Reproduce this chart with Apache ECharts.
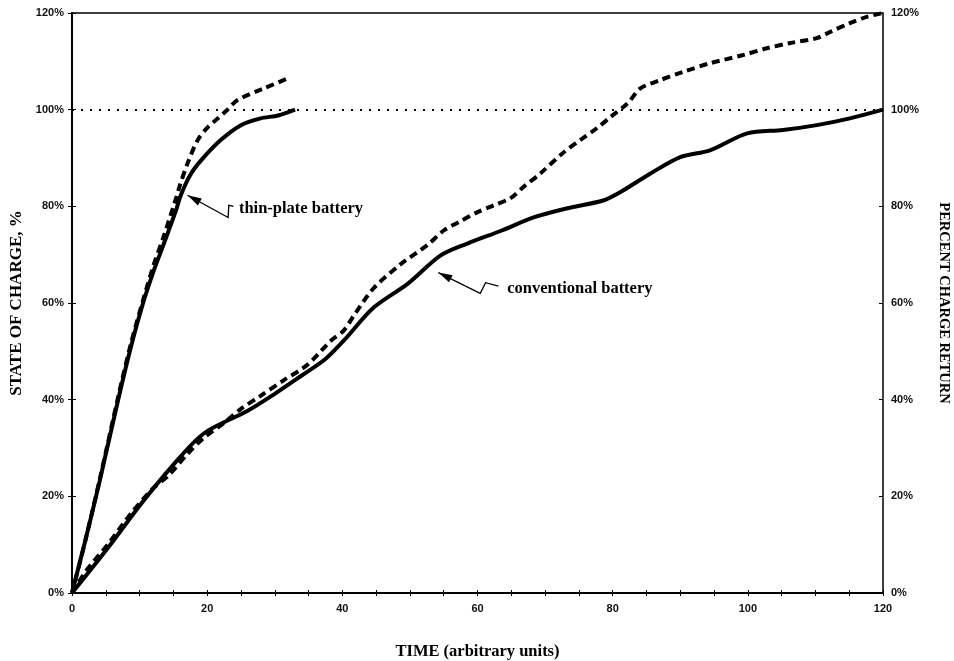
<!DOCTYPE html>
<html>
<head>
<meta charset="utf-8">
<title>State of charge</title>
<script src="https://cdn.jsdelivr.net/npm/echarts@6/dist/echarts.min.js"></script>
<style>
  html, body { margin: 0; padding: 0; background: #fff; }
  #chart { width: 954px; height: 661px; }
</style>
</head>
<body>
<div id="chart"></div>
<script>
// values (time in arbitrary units, charge in %)
var thinSolidT = [0, 2, 4.1, 6.9, 8.7, 10.5, 12.1, 13.6, 15.4, 16.1, 17.5, 19.1, 22, 25, 27.9, 30.5, 33];
var thinSolidV = [0, 11, 23.2, 40.4, 50.8, 59.9, 66.7, 72.3, 79.2, 82.3, 86.5, 89.5, 93.7, 96.8, 98.2, 98.8, 100];

var thinDashT = [0, 2, 4.1, 6.9, 8.7, 10.5, 12, 13.5, 15.2, 16, 17.1, 18.6, 20.1, 21.6, 23, 24.5, 28.4, 32];
var thinDashV = [0, 11, 23.5, 41, 51.5, 60.5, 67.5, 73.5, 80.8, 84.5, 88.9, 93.7, 96.4, 98.2, 100, 102, 104.4, 106.5];

var convSolidT = [0, 5.3, 10.2, 14.6, 19.5, 26, 30, 34, 37.5, 40.2, 44.6, 49.7, 54.5, 58.5, 63.6, 68.3, 73.3, 78.6, 81.1, 85.6, 90, 94.4, 99.9, 105.2, 110.2, 115.1, 120];
var convSolidV = [0, 9.3, 18.4, 25.9, 33, 37.7, 41.2, 45, 48.4, 52.2, 59, 64, 69.8, 72.3, 75, 77.7, 79.6, 81.2, 82.9, 86.8, 90.2, 91.6, 95.1, 95.8, 96.8, 98.2, 100];

var convDashT = [0, 2.1, 5.5, 8.7, 12.1, 14.2, 17.1, 19.5, 22.5, 25, 27.9, 31.3, 34.9, 38.3, 40.2, 41.7, 44.6, 48.6, 52.6, 55, 57.2, 60, 62.4, 64.9, 66.8, 69.3, 72.6, 75.2, 77.7, 79.7, 82.2, 84.1, 87, 90.4, 94.4, 99.3, 102.8, 106.3, 110.2, 112.2, 115.1, 117.6, 120];
var convDashV = [0, 4.6, 10.4, 16.4, 21.8, 24.2, 28.8, 32.1, 35.2, 38.1, 40.8, 44, 47.3, 52.2, 54.3, 57.4, 63, 68, 72, 75, 76.7, 78.8, 80.2, 81.7, 84, 86.8, 91, 93.7, 96.2, 98.5, 101.3, 104.4, 106.1, 107.8, 109.6, 111.3, 112.7, 113.8, 114.8, 116.1, 117.9, 119.2, 120];

var fullCharge = 100;

// annotation anchors in data coordinates
var thinLabel = 'thin-plate battery';
var thinPointer = [[17.1, 82.3], [23.1, 77.7], [23.2, 80.2], [23.9, 80]];
var thinLabelAt = [24.7, 79.6];
var convLabel = 'conventional battery';
var convPointer = [[54.2, 66.3], [60.4, 62], [61.2, 64.2], [63.1, 63.5]];
var convLabelAt = [64.4, 63];

function zip(a, b) {
  var out = [];
  for (var i = 0; i < a.length; i++) out.push([a[i], b[i]]);
  return out;
}

var tickFont = { color: '#111', fontSize: 11, fontWeight: 'bold', fontFamily: 'Liberation Sans, Arial, sans-serif' };
var serif = 'Liberation Serif, Times New Roman, serif';

var chart = echarts.init(document.getElementById('chart'));

var option = {
  animation: false,
  grid: {
    left: 72, right: 71, top: 13, bottom: 68, outerBoundsMode: 'none', containLabel: false,
    show: true, borderColor: '#000', borderWidth: 1.5, backgroundColor: 'transparent'
  },
  xAxis: [
    {
      type: 'value', min: 0, max: 120, interval: 20, position: 'bottom',
      name: 'TIME (arbitrary units)', nameLocation: 'middle', nameGap: 50,
      nameTextStyle: { color: '#000', fontSize: 16.5, fontWeight: 'bold', fontFamily: serif },
      axisLine: { lineStyle: { color: '#000', width: 2 } },
      axisTick: { show: true, inside: false, length: 3, lineStyle: { color: '#000', width: 1 } },
      minorTick: { show: true, splitNumber: 4, length: 3, lineStyle: { color: '#000', width: 1 } },
      axisLabel: Object.assign({ margin: 10 }, tickFont),
      splitLine: { show: false }
    },
    {
      type: 'value', min: 0, max: 120, interval: 5, position: 'bottom',
      axisLine: { show: false },
      axisTick: { show: true, inside: true, length: 3, lineStyle: { color: '#000', width: 1 } },
      axisLabel: { show: false },
      splitLine: { show: false }
    }
  ],
  yAxis: [
    {
      type: 'value', min: 0, max: 120, interval: 20, position: 'left',
      name: 'STATE OF CHARGE, %', nameLocation: 'middle', nameGap: 45, nameRotate: 90,
      nameTextStyle: { color: '#000', fontSize: 17, fontWeight: 'bold', fontFamily: serif },
      axisLine: { show: true, lineStyle: { color: '#000', width: 2 } },
      axisTick: { show: true, length: 4, lineStyle: { color: '#000', width: 1 } },
      axisLabel: Object.assign({ formatter: '{value}%', margin: 8 }, tickFont),
      splitLine: { show: false }
    },
    {
      type: 'value', min: 0, max: 120, interval: 20, position: 'right',
      name: 'PERCENT CHARGE RETURN', nameLocation: 'middle', nameGap: 53, nameRotate: -90,
      nameTextStyle: { color: '#000', fontSize: 14.5, fontWeight: 'bold', fontFamily: serif },
      axisLine: { show: true, lineStyle: { color: '#000', width: 1.5 } },
      axisTick: { show: true, length: 4, lineStyle: { color: '#000', width: 1 } },
      axisLabel: Object.assign({ formatter: '{value}%', margin: 8 }, tickFont),
      splitLine: { show: false }
    },
    {
      type: 'value', min: 0, max: 120, interval: 20, position: 'right',
      axisLine: { show: false },
      axisTick: { show: true, inside: true, length: 4, lineStyle: { color: '#000', width: 1 } },
      axisLabel: { show: false },
      splitLine: { show: false }
    }
  ],
  series: [
    {
      name: 'thin-plate SOC', type: 'line', smooth: 0.3, showSymbol: false,
      data: zip(thinSolidT, thinSolidV),
      lineStyle: { color: '#000', width: 4 },
      markLine: {
        silent: true, symbol: 'none', label: { show: false },
        lineStyle: { color: '#000', width: 2, type: [2, 7] },
        data: [{ yAxis: fullCharge }]
      }
    },
    {
      name: 'thin-plate return', type: 'line', smooth: 0.3, showSymbol: false,
      data: zip(thinDashT, thinDashV),
      lineStyle: { color: '#000', width: 4, type: [8, 5] }
    },
    {
      name: 'conventional SOC', type: 'line', smooth: 0.3, showSymbol: false,
      data: zip(convSolidT, convSolidV),
      lineStyle: { color: '#000', width: 4 }
    },
    {
      name: 'conventional return', type: 'line', smooth: 0.3, showSymbol: false,
      data: zip(convDashT, convDashV),
      lineStyle: { color: '#000', width: 4, type: [8, 5] }
    }
  ]
};

chart.setOption(option);

// pointers and their labels
function px(p) { return chart.convertToPixel({ xAxisIndex: 0, yAxisIndex: 0 }, p); }

function pointer(pts, text, at) {
  var p = pts.map(px);
  var tip = p[0], from = p[1];
  var dx = tip[0] - from[0], dy = tip[1] - from[1];
  var len = Math.sqrt(dx * dx + dy * dy);
  var ux = dx / len, uy = dy / len;
  var hl = 14, hw = 4;
  var bx = tip[0] - ux * hl, by = tip[1] - uy * hl;
  var lbl = px(at);
  return [
    { type: 'polyline', shape: { points: p }, style: { stroke: '#000', lineWidth: 1.3, fill: null } },
    { type: 'polygon', shape: { points: [tip, [bx - uy * hw, by + ux * hw], [bx + uy * hw, by - ux * hw]] }, style: { fill: '#000' } },
    { type: 'text', x: lbl[0], y: lbl[1], style: { text: text, fill: '#000', font: 'bold 16.5px "Liberation Serif", serif', verticalAlign: 'middle' } }
  ];
}

chart.setOption({
  graphic: pointer(thinPointer, thinLabel, thinLabelAt).concat(pointer(convPointer, convLabel, convLabelAt))
});
</script>
</body>
</html>
